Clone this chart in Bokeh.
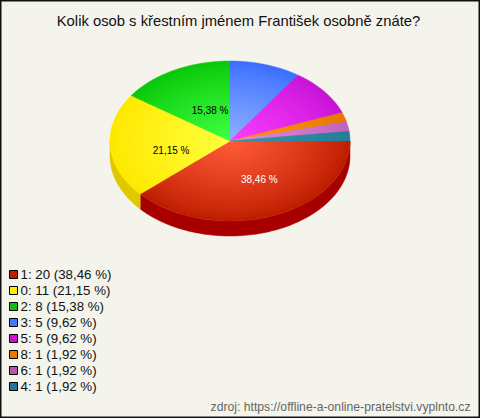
import numpy as np
from bokeh.plotting import figure
from bokeh.models import Range1d
from bokeh.core.properties import value
from bokeh.embed import file_html
from bokeh.resources import INLINE

TITLE = "Kolik osob s křestním jménem František osobně znáte?"
SOURCE = "zdroj: https://offline-a-online-pratelstvi.vyplnto.cz"
names = ["1", "0", "2", "3", "5", "8", "6", "4"]
counts = [20, 11, 8, 5, 5, 1, 1, 1]
percents = ["38,46", "21,15", "15,38", "9,62", "9,62", "1,92", "1,92", "1,92"]
legend_colors = ["#c02000", "#ffee00", "#11bb11", "#4477ff", "#cc11cc", "#ee7700", "#bb55aa", "#227799"]
outer_colors = [(190, 30, 0), (255, 232, 0), (10, 200, 10), (60, 110, 255), (200, 20, 215), (230, 120, 0), (190, 100, 190), (35, 125, 150)]
inner_colors = [(255, 90, 55), (255, 255, 60), (60, 255, 65), (140, 175, 255), (250, 60, 255), (255, 150, 20), (230, 135, 225), (50, 150, 175)]
side_colors = ["#a80000", "#e0c800", "#0a8a0a", "#3050b0", "#901090", "#a05000", "#804080", "#185868"]

W, H = 480, 418
BG = "#f4f4ec"
p = figure(width=W, height=H, output_backend="svg", toolbar_location=None,
           x_range=Range1d(0, W), y_range=Range1d(H, 0),
           min_border=0, border_fill_color=BG, background_fill_color=BG,
           outline_line_color="#111111", outline_line_width=2)
p.xaxis.visible = False
p.yaxis.visible = False
p.grid.visible = False

cx, cy, rx, ry, depth = 229.5, 140.5, 120, 80, 15
fr = np.cumsum([0] + counts) / sum(counts) * 2 * np.pi


def wedge(a0, a1, f):
    t = np.linspace(a0, a1, max(3, int((a1 - a0) * 60)))
    return ([cx] + list(cx + rx * f * np.cos(t)), [cy] + list(cy + ry * f * np.sin(t)))


# side wall of the pie (only the front half is visible)
for i in range(len(counts)):
    a0, a1 = fr[i], min(fr[i + 1], np.pi)
    if a0 >= np.pi:
        continue
    t = np.linspace(a0, a1, 120)
    xs = cx + rx * np.cos(t)
    ys = cy + ry * np.sin(t)
    p.patch(list(xs) + list(xs[::-1]), list(ys + depth) + list(ys[::-1]),
            fill_color=side_colors[i], line_color=side_colors[i], line_width=0.5)

# top face: a radial shade built from concentric wedges
layers = 24
for k in range(layers):
    f = 1 - k / layers
    mix = (k / (layers - 1)) ** 0.85
    xs_, ys_, cols = [], [], []
    for i in range(len(counts)):
        x, y = wedge(fr[i], fr[i + 1], f)
        xs_.append(x)
        ys_.append(y)
        c = [int(round(o + (n - o) * mix)) for o, n in zip(outer_colors[i], inner_colors[i])]
        cols.append("#%02x%02x%02x" % tuple(c))
    p.patches(xs_, ys_, fill_color=cols, line_color=cols, line_width=0.5)

# slice labels
font = value("Liberation Sans")
nudges = [(8, 1), (1, 7), (8, 5)]
for i, (dx, dy) in enumerate(nudges):
    mid = (fr[i] + fr[i + 1]) / 2
    p.text([cx + rx * 0.5 * np.cos(mid) + dx], [cy + ry * 0.5 * np.sin(mid) + dy],
           text=[percents[i] + " %"], text_font=font, text_font_size="10px",
           text_align="center", text_baseline="middle",
           text_color="#ffffff" if i == 0 else "#000000")

# title
p.text([238], [20], text=[TITLE], text_font=font, text_font_size="14.8px",
       text_align="center", text_baseline="middle", text_color="#111111")

# legend
ly = [274 + 16 * i for i in range(len(names))]
p.rect([13] * len(names), ly, width=8, height=8, fill_color=legend_colors,
       line_color="#000000", line_width=1)
p.text([20] * len(names), ly,
       text=[f"{n}: {c} ({q} %)" for n, c, q in zip(names, counts, percents)],
       text_font=font, text_font_size="13.3px", text_align="left",
       text_baseline="middle", text_color="#111111")

# source
p.text([470], [406], text=[SOURCE], text_font=font, text_font_size="12.2px",
       text_align="right", text_baseline="middle", text_color="#666666")

open("out.html", "w").write(file_html(p, INLINE))
